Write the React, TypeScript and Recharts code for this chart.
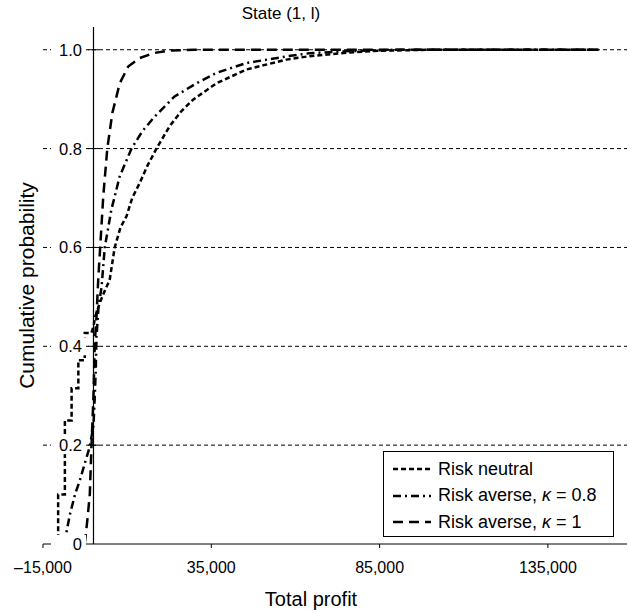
import React from 'react';
import { LineChart, Line, XAxis, YAxis, CartesianGrid, ReferenceLine, Legend } from 'recharts';

// cumulative distribution of total profit, state (1, l)
const neutralProfit = [-11500, -10500, -10500, -8500, -8500, -6500, -6500, -4500, -4500, -2600, -2600, -600, 0, 500, 2000, 3500, 4800, 6300, 8000, 9800, 11500, 13700, 16000, 18700, 22600, 26000, 29600, 36500, 45400, 57300, 64200, 75000, 85000, 100000, 150000];
const neutralProb = [0, 0, 0.1, 0.1, 0.25, 0.25, 0.315, 0.315, 0.372, 0.372, 0.427, 0.427, 0.44, 0.46, 0.49, 0.515, 0.534, 0.6, 0.64, 0.663, 0.7, 0.73, 0.765, 0.8, 0.845, 0.875, 0.899, 0.932, 0.96, 0.98, 0.987, 0.994, 0.998, 1, 1];

const averse08Profit = [-8700, -7000, -5500, -4000, -2500, -1100, 0, 400, 700, 900, 1500, 2400, 3350, 5300, 7800, 11300, 14500, 18200, 24100, 30600, 36500, 45400, 57300, 64200, 75000, 90000, 150000];
const averse08Prob = [0, 0.06, 0.1, 0.13, 0.165, 0.197, 0.24, 0.3, 0.36, 0.42, 0.48, 0.52, 0.6, 0.676, 0.744, 0.8, 0.835, 0.865, 0.9055, 0.932, 0.953, 0.973, 0.9865, 0.993, 0.997, 1, 1];

const averse1Profit = [-2600, -1800, -1100, -600, 0, 400, 900, 1400, 2000, 2900, 4100, 5600, 7800, 10300, 13700, 17700, 22000, 30000, 150000];
const averse1Prob = [0, 0.05, 0.1, 0.197, 0.3, 0.41, 0.46, 0.534, 0.602, 0.703, 0.8, 0.872, 0.932, 0.966, 0.983, 0.993, 0.998, 1, 1];

const xTicks = [-15000, 35000, 85000, 135000];
const yTicks = [0, 0.2, 0.4, 0.6, 0.8, 1.0];

const toRows = (xs: number[], ps: number[]) => xs.map((x, i) => ({ x, p: ps[i] }));

const series = [
  { name: 'Risk neutral', kappa: '', data: toRows(neutralProfit, neutralProb), dash: '5 3' },
  { name: 'Risk averse, ', kappa: '0.8', data: toRows(averse08Profit, averse08Prob), dash: '8 4 2 4' },
  { name: 'Risk averse, ', kappa: '1', data: toRows(averse1Profit, averse1Prob), dash: '10 6' },
];

const FONT = '"Liberation Sans", Arial, sans-serif';

const fmtX = (v: number) => (v < 0 ? '\u2013' : '') + Math.abs(v).toLocaleString('en-US');

const YTick = (props: any) => {
  const { x, y, payload } = props;
  const label = payload.value === 0 ? '0' : payload.value.toFixed(1);
  return (
    <g>
      <rect x={x + 8} y={y - 9} width={35} height={18} fill="#fff" />
      <text x={x + 39} y={y} dy="0.36em" textAnchor="end" fontSize={16.5} fill="#000" fontFamily={FONT}>
        {label}
      </text>
      {payload.value !== 0 && <line x1={x + 45} x2={x + 56} y1={y} y2={y} stroke="#000" strokeWidth={1} />}
    </g>
  );
};

const LegendBox = () => (
  <div
    style={{
      border: '1px solid #000',
      background: '#fff',
      boxSizing: 'border-box',
      width: 231,
      height: 86,
      padding: '4px 0 0 9px',
      fontFamily: FONT,
      fontSize: 18,
      color: '#000',
    }}
  >
    {series.map((s) => (
      <div key={s.name + s.kappa} style={{ display: 'flex', alignItems: 'center', height: 26.5 }}>
        <svg width={38} height={6} style={{ marginRight: 7 }}>
          <line x1={0} x2={38} y1={3} y2={3} stroke="#000" strokeWidth={2.5} strokeDasharray={s.dash} />
        </svg>
        <span>
          {s.name}
          {s.kappa && (
            <>
              <i>{'\u03ba'}</i> = {s.kappa}
            </>
          )}
        </span>
      </div>
    ))}
  </div>
);

export default function App() {
  return (
    <div style={{ position: 'absolute', left: 0, top: 0, width: 629, height: 612, background: '#fff', fontFamily: FONT }}>
      <div style={{ position: 'absolute', left: 0, width: 562, top: 4, textAlign: 'center', fontSize: 17, zIndex: 2 }}>
        State (1, l)
      </div>
      <LineChart width={629} height={612} margin={{ top: 27, right: 2, bottom: 0, left: 0 }}>
        <CartesianGrid horizontal vertical={false} stroke="#000" strokeDasharray="4 3" strokeWidth={1} horizontalValues={[0.2, 0.4, 0.6, 0.8, 1.0]} />
        <XAxis
          dataKey="x"
          type="number"
          domain={[-15000, 158500]}
          ticks={xTicks}
          tickFormatter={fmtX}
          allowDataOverflow
          height={68}
          tickSize={4}
          tickMargin={14}
          stroke="#000"
          tick={{ fill: '#000', fontSize: 16, fontFamily: FONT }}
          label={{ value: 'Total profit', position: 'insideBottom', offset: 6, dx: -24, fill: '#000', fontSize: 20, fontFamily: FONT }}
        />
        <YAxis
          type="number"
          domain={[0, 1.046]}
          ticks={yTicks}
          width={43}
          axisLine={false}
          tickLine={false}
          tickSize={0}
          tickMargin={0}
          tick={<YTick />}
          label={{ value: 'Cumulative probability', angle: -90, position: 'insideLeft', offset: 27, fill: '#000', fontSize: 21, fontFamily: FONT, style: { textAnchor: 'middle' } }}
        />
        <ReferenceLine x={0} stroke="#000" strokeWidth={1.2} />
        {series.map((s) => (
          <Line
            key={s.name + s.kappa}
            data={s.data}
            dataKey="p"
            type="linear"
            stroke="#000"
            strokeWidth={2.5}
            strokeDasharray={s.dash}
            dot={false}
            activeDot={false}
            isAnimationActive={false}
          />
        ))}
        <Legend
          layout="vertical"
          align="center"
          verticalAlign="middle"
          wrapperStyle={{ left: 383, top: 451, width: 231, height: 86 }}
          content={<LegendBox />}
        />
      </LineChart>
    </div>
  );
}
